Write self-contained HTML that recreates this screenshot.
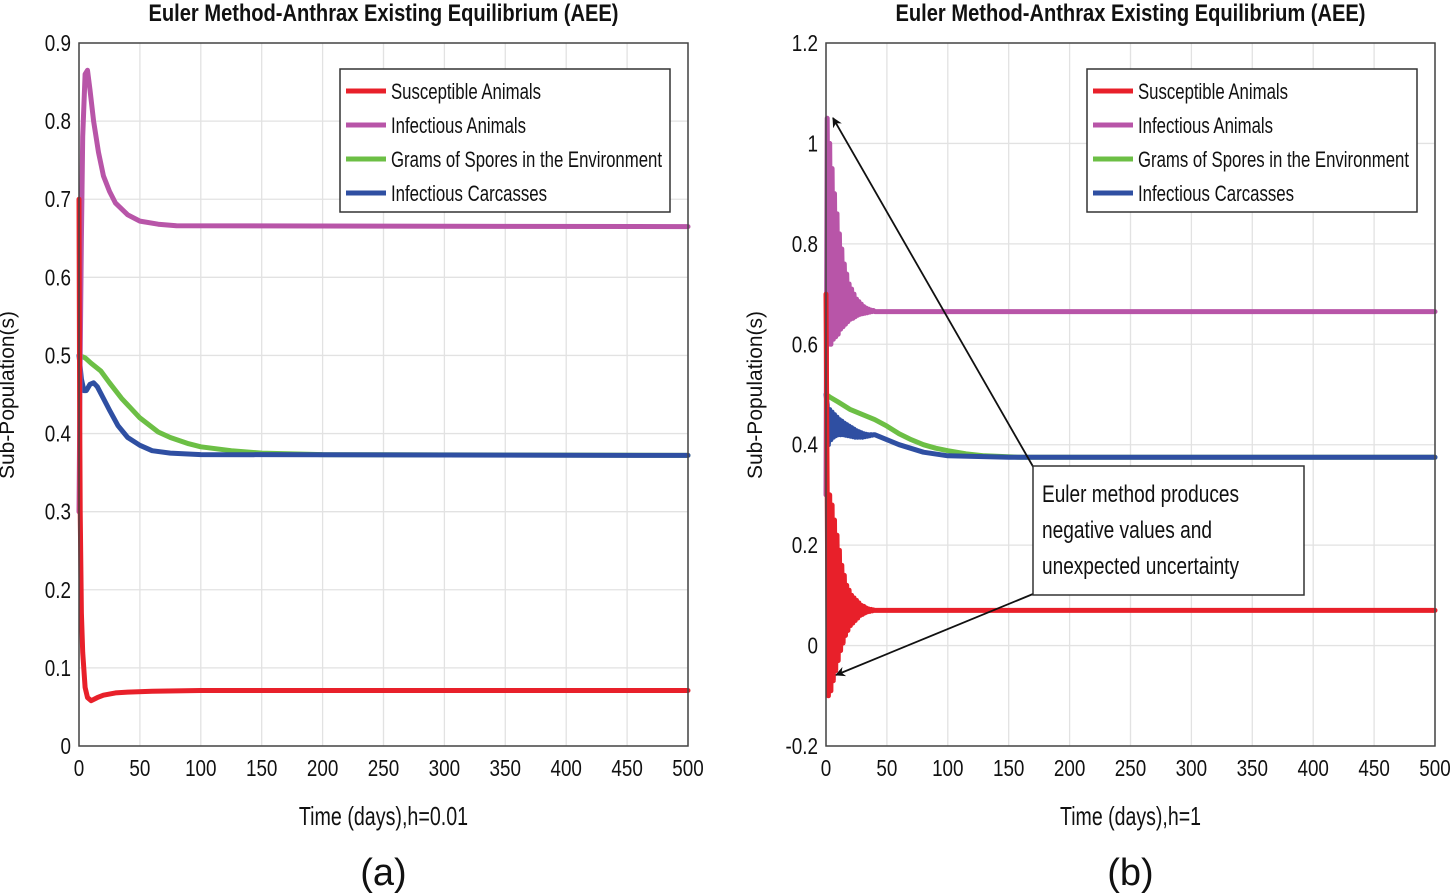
<!DOCTYPE html>
<html><head><meta charset="utf-8"><style>
body{margin:0;background:#fff}
svg{display:block}
text{font-family:"Liberation Sans",sans-serif;fill:#111}
</style></head><body>
<svg id="s" width="1450" height="894" viewBox="0 0 1450 894" xmlns="http://www.w3.org/2000/svg"></svg>
<script>
// ---- data ----
const xTicks=[0,50,100,150,200,250,300,350,400,450,500];
const yTicksA=[0,0.1,0.2,0.3,0.4,0.5,0.6,0.7,0.8,0.9];
const yTicksB=[-0.2,0,0.2,0.4,0.6,0.8,1,1.2];
const seriesNames=["Susceptible Animals","Infectious Animals","Grams of Spores in the Environment","Infectious Carcasses"];
const colors=["#e8202a","#b855a8","#6cbf45","#2f4fa2"];
// Panel (a) [t, value]
const aRed=[[0,0.7],[0.5,0.45],[1,0.3],[2,0.17],[3,0.12],[5,0.075],[7,0.062],[10,0.058],[15,0.062],[20,0.065],[30,0.068],[40,0.069],[60,0.07],[100,0.071],[500,0.071]];
const aPurple=[[0,0.3],[1,0.5],[2,0.65],[3,0.78],[5,0.86],[7,0.865],[9,0.84],[12,0.8],[16,0.76],[20,0.73],[25,0.71],[30,0.695],[40,0.68],[50,0.672],[65,0.668],[80,0.666],[500,0.665]];
const aGreen=[[0,0.5],[5,0.497],[10,0.49],[18,0.48],[25,0.465],[35,0.445],[50,0.42],[65,0.402],[75,0.395],[90,0.387],[100,0.383],[125,0.378],[150,0.375],[200,0.373],[500,0.372]];
const aBlue=[[0,0.5],[2,0.47],[4,0.455],[6,0.455],[9,0.463],[12,0.465],[15,0.46],[20,0.445],[25,0.43],[32,0.41],[40,0.395],[50,0.385],[60,0.378],[75,0.375],[100,0.373],[500,0.372]];
// Panel (b): initial values, then alternating daily hi (odd days) / lo (even days) for days 1..40
const bInit=[0.7,0.3,0.5,0.5];
const bRedHi=[0.30,0.30,0.28,0.25,0.22,0.19,0.16,0.14,0.12,0.11,0.10,0.095,0.09,0.085,0.08,0.078,0.075,0.073,0.072,0.071];
const bRedLo=[-0.10,-0.09,-0.07,-0.05,-0.03,-0.01,0.005,0.02,0.03,0.04,0.045,0.05,0.055,0.06,0.062,0.065,0.067,0.068,0.069,0.07];
const bPurHi=[1.05,1.0,0.95,0.90,0.86,0.82,0.79,0.76,0.74,0.72,0.71,0.70,0.69,0.685,0.68,0.675,0.672,0.67,0.668,0.667];
const bPurLo=[0.60,0.60,0.61,0.615,0.62,0.63,0.635,0.64,0.645,0.65,0.652,0.655,0.658,0.66,0.661,0.662,0.663,0.664,0.665,0.665];
const bBluHi=[0.48,0.47,0.465,0.46,0.455,0.45,0.447,0.443,0.44,0.437,0.434,0.431,0.428,0.426,0.424,0.422,0.421,0.42,0.42,0.42];
const bBluLo=[0.40,0.41,0.415,0.418,0.42,0.42,0.42,0.419,0.418,0.417,0.416,0.415,0.415,0.415,0.415,0.416,0.417,0.418,0.419,0.42];
const bRedTail=[[40,0.07],[500,0.07]];
const bPurTail=[[40,0.665],[500,0.665]];
const bBluTail=[[40,0.42],[50,0.41],[60,0.40],[80,0.385],[100,0.378],[150,0.375],[500,0.375]];
const bGreen=[[0,0.5],[3,0.495],[10,0.485],[20,0.47],[30,0.46],[40,0.45],[50,0.437],[60,0.422],[70,0.41],[80,0.4],[90,0.393],[100,0.388],[115,0.382],[130,0.378],[160,0.375],[500,0.375]];

const NS="http://www.w3.org/2000/svg";
const svg=document.getElementById('s');
function mk(tag,attrs,parent){const e=document.createElementNS(NS,tag);for(const k in attrs)e.setAttribute(k,attrs[k]);(parent||svg).appendChild(e);return e;}
function txt(s,attrs,parent){const e=mk('text',attrs,parent);e.textContent=s;return e;}

function panel(id,x0,x1,y0,y1,ymin,ymax,yTicks,title,xlab,letter,lx){
  const g=mk('g',{});
  
  
  const sx=t=>x0+(t-0)/(500)*(x1-x0);
  const sy=v=>y1-(v-ymin)/(ymax-ymin)*(y1-y0);
  // grid
  xTicks.forEach(t=>{const l=mk('line',{x1:sx(t),x2:sx(t),y1:y0,y2:y1,stroke:'#e2e2e2','stroke-width':1.3},g);
    });
  yTicks.forEach(v=>{const l=mk('line',{x1:x0,x2:x1,y1:sy(v),y2:sy(v),stroke:'#e2e2e2','stroke-width':1.3},g);
    });
  // tick labels
  xTicks.forEach(t=>{const e=txt(String(t),{x:sx(t),y:y1+30,'font-size':23,'text-anchor':'middle',transform:`translate(${sx(t)},0) scale(0.82,1) translate(${-sx(t)},0)`},g);
    });
  yTicks.forEach(v=>{const e=txt(String(v),{x:x0-8,y:sy(v)+8,'font-size':23,'text-anchor':'end',transform:`translate(${x0-8},0) scale(0.82,1) translate(${-(x0-8)},0)`},g);
    });
  // title etc
  const cx=(x0+x1)/2;
  const t1=txt(title,{x:cx,y:21,'font-size':24,'font-weight':'bold','text-anchor':'middle',textLength:470,lengthAdjust:'spacingAndGlyphs'},g);
  
  const t2=txt(xlab,{x:cx,y:825,'font-size':26,'text-anchor':'middle',textLength:xlab.length*9.4,lengthAdjust:'spacingAndGlyphs'},g);
  
  const t3=txt('('+letter+')',{x:cx,y:885,'font-size':38,'text-anchor':'middle','font-family':'Liberation Serif, serif'},g);
  
  const t4=txt('Sub-Population(s)',{x:0,y:0,'font-size':21,'text-anchor':'middle',transform:`translate(${lx},395) rotate(-90)`},g);
  
  return {g,sx,sy};
}
function line(P,pts,col,name){
  const p=mk('polyline',{points:pts.map(d=>P.sx(d[0]).toFixed(1)+','+P.sy(d[1]).toFixed(1)).join(' '),fill:'none',stroke:col,'stroke-width':5,'stroke-linejoin':'round','stroke-linecap':'round'},P.g);
  
  
}
function osc(init,hi,lo,tail){
  const pts=[[0,init]];
  for(let i=0;i<hi.length;i++){pts.push([2*i+1,hi[i]]);pts.push([2*i+2,lo[i]]);}
  return pts.concat(tail);
}
function box(P,x0,x1,y0,y1){
  const r=mk('rect',{x:x0,y:y0,width:x1-x0,height:y1-y0,fill:'none',stroke:'#444','stroke-width':1.5},P.g);
  
}
function legend(P,lx,ly){
  const g=mk('g',{},P.g);
  
  const r=mk('rect',{x:lx,y:ly,width:330,height:143,fill:'#fff',stroke:'#333','stroke-width':1.5},g);
  
  const lens=[150,135,271,156];
  seriesNames.forEach((n,i)=>{
    const y=ly+22+i*34;
    const l=mk('line',{x1:lx+6,x2:lx+46,y1:y,y2:y,stroke:colors[i],'stroke-width':5},g);
    
    const t=txt(n,{x:lx+51,y:y+8,'font-size':22,textLength:lens[i],lengthAdjust:'spacingAndGlyphs'},g);
    
  });
}
// Panel a
const A=panel('a',79,688,43,746,0,0.9,yTicksA,'Euler Method-Anthrax Existing Equilibrium (AEE)','Time (days),h=0.01','a',14);
line(A,aGreen,colors[2],'series-spores-a');
line(A,aBlue,colors[3],'series-carcasses-a');
line(A,aPurple,colors[1],'series-infectious-a');
line(A,aRed,colors[0],'series-susceptible-a');
box(A,79,688,43,746);
legend(A,340,69);
// Panel b
const B=panel('b',826,1435,43,746,-0.2,1.2,yTicksB,'Euler Method-Anthrax Existing Equilibrium (AEE)','Time (days),h=1','b',762);
line(B,bGreen,colors[2],'series-spores-b');
line(B,osc(bInit[3],bBluHi,bBluLo,bBluTail),colors[3],'series-carcasses-b');
line(B,osc(bInit[1],bPurHi,bPurLo,bPurTail),colors[1],'series-infectious-b');
line(B,osc(bInit[0],bRedHi,bRedLo,bRedTail),colors[0],'series-susceptible-b');
box(B,826,1435,43,746);
legend(B,1087,69);
// annotation
const ag=mk('g',{});

const defs=mk('defs',{},ag);
const m=mk('marker',{id:'ah',markerWidth:10,markerHeight:10,refX:9,refY:5,orient:'auto',markerUnits:'userSpaceOnUse'},defs);
mk('path',{d:'M0,0 L10,5 L0,10 L3,5 Z',fill:'#111'},m);
const ar1=mk('line',{x1:1035,y1:470,x2:833,y2:118,stroke:'#111','stroke-width':1.8,'marker-end':'url(#ah)'},ag);

const ar2=mk('line',{x1:1033,y1:594,x2:836,y2:675,stroke:'#111','stroke-width':1.8,'marker-end':'url(#ah)'},ag);

const ab=mk('rect',{x:1033,y:466,width:271,height:129,fill:'#fff',stroke:'#333','stroke-width':1.5},ag);

[['Euler method produces',197],['negative values and',170],['unexpected uncertainty',197]].forEach((d,i)=>{
  const t=txt(d[0],{x:1042,y:502+i*36,'font-size':24,textLength:d[1],lengthAdjust:'spacingAndGlyphs'},ag);
  
});
</script>
</body></html>
